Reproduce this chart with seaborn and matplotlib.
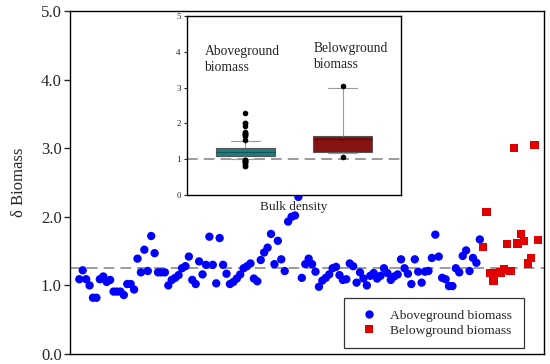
import numpy as np
import pandas as pd
import matplotlib
matplotlib.use("Agg")
import matplotlib.pyplot as plt
import seaborn as sns

above_values = [
    1.09, 1.22, 1.09, 1.00, 0.82, 0.82, 1.09, 1.13, 1.05, 1.08, 0.91, 0.91, 0.91, 0.86,
    1.02, 1.02, 0.94, 1.39, 1.19, 1.52, 1.21, 1.72, 1.47, 1.19, 1.19, 1.19, 1.00,
    1.08, 1.11, 1.15, 1.25, 1.28, 1.42, 1.08, 1.02, 1.35, 1.16, 1.30, 1.71, 1.30, 1.03,
    1.69, 1.30, 1.17,
    1.02, 1.05, 1.10, 1.16, 1.25, 1.28, 1.32, 1.10, 1.06, 1.37, 1.48, 1.55, 1.75, 1.31,
    1.65, 1.38, 1.21, 1.93, 2.00, 2.02, 2.29,
    1.11, 1.31, 1.39, 1.31, 1.20, 0.98, 1.07, 1.11, 1.16, 1.25, 1.27, 1.15, 1.08, 1.09,
    1.32, 1.28, 1.04, 1.19, 1.10, 1.00,
    1.14, 1.18, 1.10, 1.14, 1.25, 1.18, 1.08, 1.13, 1.16, 1.38, 1.25, 1.17, 1.02, 1.38,
    1.20, 1.04, 1.20, 1.21,
    1.40, 1.74, 1.42, 1.11, 1.09, 0.99, 0.99, 1.25, 1.19, 1.43, 1.51, 1.21, 1.40, 1.33,
    1.67,
]
below_values = [1.56, 2.07, 1.18, 1.07, 1.18, 1.19, 1.23, 1.60, 1.21, 3.00, 1.61, 1.75,
                1.65, 1.32, 1.40, 3.05, 1.66]
series_labels = ["Aboveground biomass", "Belowground biomass"]
inset_labels = ["Aboveground\nbiomass", "Belowground\nbiomass"]
main_ref = 1.25
inset_ref = 1.0
main_yticks = [0.0, 1.0, 2.0, 3.0, 4.0, 5.0]
inset_yticks = [0, 1, 2, 3, 4, 5]

n_a, n_b = len(above_values), len(below_values)
df = pd.DataFrame({
    "idx": np.arange(n_a + n_b),
    "value": above_values + below_values,
    "group": [series_labels[0]] * n_a + [series_labels[1]] * n_b,
})

sns.set_style("white")
plt.rcParams["font.family"] = ["Liberation Serif", "DejaVu Serif"]

fig = plt.figure(figsize=(5.5, 3.64), dpi=100)
ax = fig.add_axes([70 / 550, 1 - 354 / 364, 474 / 550, 343 / 364])

sns.scatterplot(data=df, x="idx", y="value", hue="group", style="group",
                palette=["#0000ff", "#e00000"], markers=["o", "s"],
                s=36, linewidth=0, ax=ax, legend=True, zorder=3)
ax.axhline(main_ref, color="#808080", lw=1.1, ls=(0, (7, 4)), zorder=2)
ax.set_xlim(-2.72, 135.75)
ax.set_ylim(0, 5)
ax.set_yticks(main_yticks)
ax.set_yticklabels([f"{v:.1f}" for v in main_yticks], fontsize=12)
ax.set_xticks([])
ax.set_xlabel("")
ax.set_ylabel("δ Biomass", fontsize=12, labelpad=10)
ax.tick_params(axis="y", direction="out", length=4, width=1, left=True, pad=2)
for sp in ax.spines.values():
    sp.set_color("black")
    sp.set_linewidth(1.0)

handles, labels = ax.get_legend_handles_labels()
leg = ax.legend(handles, labels, loc="lower left",
                bbox_to_anchor=(0.578, 0.017), fontsize=9.7,
                frameon=True, fancybox=False, edgecolor="black",
                borderpad=0.85, handletextpad=0.6, handlelength=2.0,
                labelspacing=0.2, markerscale=1.0, borderaxespad=0)
leg.get_frame().set_linewidth(0.9)

# inset
ins = fig.add_axes([187 / 550, 1 - 195 / 364, 214 / 550, 179 / 364])
ins.set_zorder(5)
box_df = pd.DataFrame({"group": df["group"], "value": df["value"]})
common = dict(x="group", y="value", order=series_labels, width=0.6, ax=ins,
              linewidth=0.8, linecolor="#555555",
              whiskerprops=dict(color="#9a9a9a"), capprops=dict(color="#9a9a9a"),
              flierprops=dict(marker="o", markersize=3, markerfacecolor="black",
                              markeredgecolor="black"))
sns.boxplot(data=box_df[box_df.group == series_labels[0]], color="#168a8a",
            whis=[10, 90], medianprops=dict(color="#0b5858"), **common)
sns.boxplot(data=box_df[box_df.group == series_labels[1]], color="#990000",
            whis=[5, 95], medianprops=dict(color="#6a0000"), **common)
ins.axhline(inset_ref, color="#808080", lw=1.1, ls=(0, (7, 4)), zorder=0)
ins.set_xlim(-0.6, 1.6)
ins.set_ylim(0, 5)
ins.set_yticks(inset_yticks)
ins.set_yticklabels([str(v) for v in inset_yticks], fontsize=6.5)
ins.set_xticks([])
ins.set_ylabel("")
ins.set_xlabel("Bulk density", fontsize=9.5, labelpad=4)
ins.tick_params(axis="y", direction="out", length=2.5, width=0.8, left=True, pad=2)
for sp in ins.spines.values():
    sp.set_color("black")
    sp.set_linewidth(1.0)
ins.text(-0.42, 4.18, inset_labels[0], fontsize=9.8, va="top", ha="left", linespacing=1.25)
ins.text(0.70, 4.26, inset_labels[1], fontsize=9.8, va="top", ha="left", linespacing=1.25)

fig.savefig("out.png", dpi=100)
